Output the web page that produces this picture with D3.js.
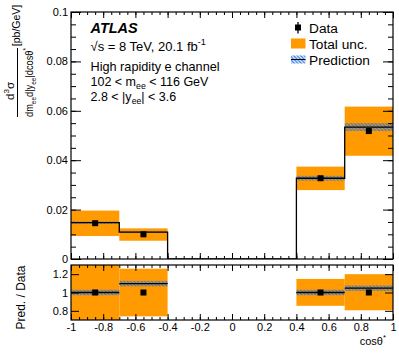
<!DOCTYPE html>
<html><head><meta charset="utf-8">
<script src="https://cdn.jsdelivr.net/npm/d3@7"></script>
<style>body{margin:0;background:#fff;} text{font-family:"Liberation Sans",Arial,Helvetica,sans-serif;}</style>
</head><body>
<script>
// ---- data ----
const binLo = [-1, -0.7, 0.4, 0.7];
const binHi = [-0.7, -0.4, 0.7, 1];
const dataVals = [0.0145, 0.0100, 0.0327, 0.0518];
const totUncLow = [0.0093, 0.0074, 0.0279, 0.0418];
const totUncHigh = [0.0196, 0.0124, 0.0374, 0.0617];
const predVals = [0.0147, 0.0109, 0.0327, 0.0534];
const predRelUnc = [0.03, 0.03, 0.03, 0.03];
const ratioData = [1.0, 1.0, 1.0, 1.0];
const ratioPred = [1.0, 1.097, 1.0, 1.047];
const ratioUncLow = [0.64, 0.74, 0.855, 0.806];
const ratioUncHigh = [1.36, 1.26, 1.148, 1.2];
const mainYTicks = [0, 0.02, 0.04, 0.06, 0.08, 0.1];
const mainYTickLabels = ["0", "0.02", "0.04", "0.06", "0.08", "0.1"];
const ratioYTicks = [0.8, 1.0, 1.2];
const ratioYTickLabels = ["0.8", "1", "1.2"];
const xTicks = [-1, -0.8, -0.6, -0.4, -0.2, 0, 0.2, 0.4, 0.6, 0.8, 1];
const xTickLabels = ["-1", "-0.8", "-0.6", "-0.4", "-0.2", "0", "0.2", "0.4", "0.6", "0.8", "1"];

const W = 399, H = 353;
const L = 71, R = 393, mT = 12, mB = 259, rT = 265, rB = 320;
const ORANGE = "#ff9a00", BLUE = "#2f78e0";

const svg = d3.select("body").append("svg").attr("width", W).attr("height", H);
const defs = svg.append("defs");
const pat = defs.append("pattern").attr("id", "hatch").attr("patternUnits", "userSpaceOnUse")
  .attr("width", 3.5).attr("height", 3.5);
pat.append("path").attr("d", "M-1,-1 L4.5,4.5 M-1,2.5 L1,4.5 M2.5,-1 L4.5,1")
  .attr("stroke", BLUE).attr("stroke-width", 1.3);
defs.append("clipPath").attr("id", "clipMain").append("rect").attr("x", L).attr("y", mT).attr("width", R - L).attr("height", mB - mT);
defs.append("clipPath").attr("id", "clipRatio").append("rect").attr("x", L).attr("y", rT).attr("width", R - L).attr("height", rB - rT);

const x = d3.scaleLinear().domain([-1, 1]).range([L, R]);
const yM = d3.scaleLinear().domain([0, 0.1]).range([mB, mT]);
const yR = d3.scaleLinear().domain([0.7, 1.3]).range([rB, rT]);

const idx = d3.range(binLo.length);

// ---- main panel ----
const gM = svg.append("g").attr("clip-path", "url(#clipMain)");
gM.selectAll("rect.unc").data(idx).join("rect").attr("class", "unc")
  .attr("x", i => x(binLo[i])).attr("width", i => x(binHi[i]) - x(binLo[i]))
  .attr("y", i => yM(totUncHigh[i])).attr("height", i => yM(totUncLow[i]) - yM(totUncHigh[i]))
  .attr("fill", ORANGE);
gM.selectAll("rect.pred").data(idx).join("rect").attr("class", "pred")
  .attr("x", i => x(binLo[i])).attr("width", i => x(binHi[i]) - x(binLo[i]))
  .attr("y", i => yM(predVals[i] * (1 + predRelUnc[i])))
  .attr("height", i => yM(predVals[i] * (1 - predRelUnc[i])) - yM(predVals[i] * (1 + predRelUnc[i])))
  .attr("fill", "url(#hatch)");
// step line
const pts = [];
let prevHi = null;
idx.forEach(i => {
  if (prevHi !== null && binLo[i] > prevHi) { pts.push([prevHi, 0]); pts.push([binLo[i], 0]); }
  pts.push([binLo[i], predVals[i]]); pts.push([binHi[i], predVals[i]]);
  prevHi = binHi[i];
});
gM.append("path").attr("d", d3.line().x(d => x(d[0])).y(d => yM(d[1]))(pts))
  .attr("fill", "none").attr("stroke", "#000").attr("stroke-width", 1.3);
gM.selectAll("rect.dat").data(idx).join("rect").attr("class", "dat")
  .attr("x", i => x((binLo[i] + binHi[i]) / 2) - 3).attr("y", i => yM(dataVals[i]) - 3)
  .attr("width", 6).attr("height", 6).attr("fill", "#000");

// ---- ratio panel ----
const gR = svg.append("g").attr("clip-path", "url(#clipRatio)");
gR.selectAll("rect.unc").data(idx).join("rect").attr("class", "unc")
  .attr("x", i => x(binLo[i])).attr("width", i => x(binHi[i]) - x(binLo[i]))
  .attr("y", i => yR(ratioUncHigh[i])).attr("height", i => yR(ratioUncLow[i]) - yR(ratioUncHigh[i]))
  .attr("fill", ORANGE);
gR.selectAll("rect.pred").data(idx).join("rect").attr("class", "pred")
  .attr("x", i => x(binLo[i])).attr("width", i => x(binHi[i]) - x(binLo[i]))
  .attr("y", i => yR(ratioPred[i] + predRelUnc[i]))
  .attr("height", i => yR(ratioPred[i] - predRelUnc[i]) - yR(ratioPred[i] + predRelUnc[i]))
  .attr("fill", "url(#hatch)");
gR.selectAll("line.pred").data(idx).join("line").attr("class", "pred")
  .attr("x1", i => x(binLo[i])).attr("x2", i => x(binHi[i]))
  .attr("y1", i => yR(ratioPred[i])).attr("y2", i => yR(ratioPred[i]))
  .attr("stroke", "#000").attr("stroke-width", 1.3);
gR.selectAll("rect.dat").data(idx).join("rect").attr("class", "dat")
  .attr("x", i => x((binLo[i] + binHi[i]) / 2) - 3).attr("y", i => yR(ratioData[i]) - 3)
  .attr("width", 6).attr("height", 6).attr("fill", "#000");

// ---- axes ----
const minorX = d3.range(-1, 1.0001, 0.05).map(v => +v.toFixed(2));
function styleAxis(g) { g.select(".domain").remove(); g.selectAll("line").attr("stroke", "#000"); g.selectAll("text").attr("font-size", 11).attr("fill", "#000"); }
function addX(y, dir, labels) {
  const mk = dir === "up" ? d3.axisBottom : d3.axisTop;
  svg.append("g").attr("transform", `translate(0,${y})`).call(mk(x).tickValues(minorX).tickSize(-3).tickFormat("")).call(styleAxis);
  const ax = mk(x).tickValues(xTicks).tickSize(-6).tickPadding(3)
    .tickFormat(labels ? ((d, i) => xTickLabels[i]) : "");
  svg.append("g").attr("transform", `translate(0,${y})`).call(ax).call(styleAxis);
}
addX(mB, "up", false);
addX(mT, "down", false);
addX(rB, "up", true);
addX(rT, "down", false);

const minorYM = d3.range(0, 0.1001, 0.005);
svg.append("g").attr("transform", `translate(${L},0)`).call(d3.axisLeft(yM).tickValues(minorYM).tickSize(-5).tickFormat("")).call(styleAxis);
svg.append("g").attr("transform", `translate(${L},0)`).call(d3.axisLeft(yM).tickValues(mainYTicks).tickSize(-10).tickPadding(3).tickFormat((d, i) => mainYTickLabels[i])).call(styleAxis);
svg.append("g").attr("transform", `translate(${R},0)`).call(d3.axisRight(yM).tickValues(minorYM).tickSize(-5).tickFormat("")).call(styleAxis);
svg.append("g").attr("transform", `translate(${R},0)`).call(d3.axisRight(yM).tickValues(mainYTicks).tickSize(-10).tickFormat("")).call(styleAxis);
svg.append("g").attr("transform", `translate(${L},0)`).call(d3.axisLeft(yR).tickValues(ratioYTicks).tickSize(-8).tickPadding(3).tickFormat((d, i) => ratioYTickLabels[i])).call(styleAxis);
svg.append("g").attr("transform", `translate(${R},0)`).call(d3.axisRight(yR).tickValues(ratioYTicks).tickSize(-8).tickFormat("")).call(styleAxis);

// frames
[[mT, mB], [rT, rB]].forEach(([t, b]) => svg.append("rect").attr("x", L).attr("y", t).attr("width", R - L).attr("height", b - t)
  .attr("fill", "none").attr("stroke", "#000").attr("stroke-width", 1.2));

// ---- rich text helper ----
function rich(t, parts, fs) {
  let cur = 0;
  parts.forEach(p => {
    const target = p.s === "sub" ? fs * 0.3 : p.s === "sup" ? -fs * 0.42 : 0;
    const ts = t.append("tspan").text(p.t).attr("dy", target - cur);
    if (p.s) ts.attr("font-size", fs * 0.7);
    cur = target;
  });
  return t;
}

// ATLAS labels
svg.append("text").attr("x", 90.5).attr("y", 32.7).attr("font-size", 14.5).attr("font-weight", "bold").attr("font-style", "italic").text("ATLAS");
rich(svg.append("text").attr("x", 90.5).attr("y", 50.5).attr("font-size", 13),
  [{ t: "√s = 8 TeV, 20.1 fb" }, { t: "-1", s: "sup" }], 13);
svg.append("text").attr("x", 90.5).attr("y", 70.5).attr("font-size", 12.7).text("High rapidity e channel");
rich(svg.append("text").attr("x", 90.5).attr("y", 85.5).attr("font-size", 12.5),
  [{ t: "102 < m" }, { t: "ee", s: "sub" }, { t: " < 116 GeV" }], 12.5);
rich(svg.append("text").attr("x", 90.5).attr("y", 100.5).attr("font-size", 12.5),
  [{ t: "2.8 < |y" }, { t: "ee", s: "sub" }, { t: "| < 3.6" }], 12.5);

// legend
const lgX = 291, lgTX = 309;
svg.append("line").attr("x1", lgX + 7).attr("x2", lgX + 7).attr("y1", 22).attr("y2", 33.5).attr("stroke", "#000").attr("stroke-width", 1.3);
svg.append("rect").attr("x", lgX + 4).attr("y", 24.5).attr("width", 6).attr("height", 6).attr("fill", "#000");
svg.append("text").attr("x", lgTX).attr("y", 32.5).attr("font-size", 13.7).text("Data");
svg.append("rect").attr("x", lgX).attr("y", 38.5).attr("width", 14.5).attr("height", 10).attr("fill", ORANGE);
svg.append("text").attr("x", lgTX).attr("y", 48.5).attr("font-size", 13.7).text("Total unc.");
svg.append("rect").attr("x", lgX).attr("y", 55.5).attr("width", 14.5).attr("height", 8).attr("fill", "url(#hatch)");
svg.append("line").attr("x1", lgX).attr("x2", lgX + 14.5).attr("y1", 59.5).attr("y2", 59.5).attr("stroke", "#000").attr("stroke-width", 1);
svg.append("text").attr("x", lgTX).attr("y", 64.5).attr("font-size", 13.7).text("Prediction");

// y label main (rotated)
const yl = svg.append("g").attr("transform", "rotate(-90)");
rich(yl.append("text").attr("x", -91).attr("y", 14).attr("text-anchor", "middle").attr("font-size", 11.5),
  [{ t: "d" }, { t: "3", s: "sup" }, { t: "σ" }], 11.5);
yl.append("line").attr("x1", -117).attr("x2", -48).attr("y1", 17.5).attr("y2", 17.5).attr("stroke", "#000").attr("stroke-width", 1);
rich(yl.append("text").attr("x", -82.5).attr("y", 32.5).attr("text-anchor", "middle").attr("font-size", 10.5)
  .attr("textLength", 69).attr("lengthAdjust", "spacingAndGlyphs"),
  [{ t: "dm" }, { t: "ee", s: "sub" }, { t: "d|y" }, { t: "ee", s: "sub" }, { t: "|dcosθ" }, { t: "*", s: "sup" }], 10.5);
yl.append("text").attr("x", -25.5).attr("y", 19.5).attr("text-anchor", "middle").attr("font-size", 10.5).text("[pb/GeV]");
yl.append("text").attr("x", -297.5).attr("y", 25).attr("text-anchor", "middle").attr("font-size", 12).text("Pred. / Data");

// x label
rich(svg.append("text").attr("x", 386).attr("y", 345).attr("text-anchor", "end").attr("font-size", 11),
  [{ t: "cosθ" }, { t: "*", s: "sup" }], 11);
</script>
</body></html>
